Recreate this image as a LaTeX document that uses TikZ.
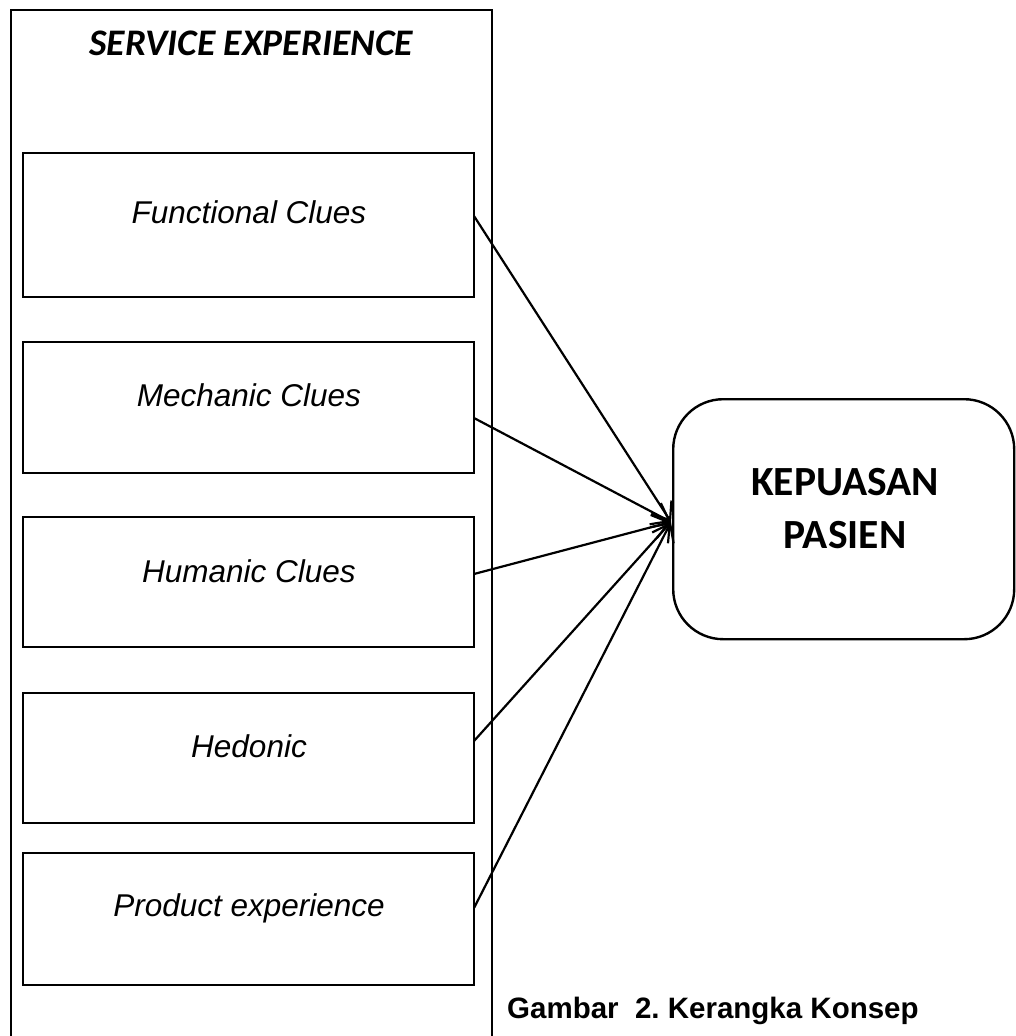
\documentclass[tikz,border=0pt]{standalone}
\usepackage{fontspec}
\setmainfont{Liberation Sans}
\newfontfamily\calib{Carlito}
\usetikzlibrary{arrows.meta}
\frenchspacing
\begin{document}
\begin{tikzpicture}[x=1pt,y=-1pt,
  frame/.style={line width=2.4pt},
  clue/.style={draw,line width=2.4pt,minimum width=451pt,inner sep=0pt,anchor=north west},
  cluetext/.style={anchor=base,inner sep=0pt,font=\itshape\fontsize{31.5}{36}\selectfont},
  goal/.style={draw,line width=2.4pt,rounded corners=50pt,minimum width=341pt,minimum height=240pt,inner sep=0pt,anchor=north west},
  goaltext/.style={anchor=base,inner sep=0pt,font=\calib\bfseries\fontsize{41.5}{48}\selectfont},
  conn/.style={line width=2.2pt,-{Straight Barb[length=16pt,width=24pt]}}]
\useasboundingbox (0,0) rectangle (1015,1036);
% outer frame
\draw[frame] (11,1040) -- (11,10) -- (492,10) -- (492,1040);
\node[anchor=base,inner sep=0pt,font=\calib\bfseries\itshape\fontsize{37.5}{42}\selectfont] (title) at (251,55) {SERVICE EXPERIENCE};
% clue boxes
\node[clue,minimum height=144pt] (b1) at (22,152) {};
\node[clue,minimum height=131pt] (b2) at (22,341) {};
\node[clue,minimum height=130pt] (b3) at (22,516) {};
\node[clue,minimum height=130pt] (b4) at (22,692) {};
\node[clue,minimum height=132pt] (b5) at (22,852) {};
\node[cluetext] (t1) at (249,223) {Functional Clues};
\node[cluetext] (t2) at (249,406) {Mechanic Clues};
\node[cluetext] (t3) at (249,582) {Humanic Clues};
\node[cluetext] (t4) at (249,757) {Hedonic};
\node[cluetext] (t5) at (249,916) {Product experience};
% goal box
\node[goal] (g) at (672,398) {};
\node[goaltext] (g1) at (845,495) {KEPUASAN};
\node[goaltext] (g2) at (845,548) {PASIEN};
% connectors
\coordinate (s1) at (474,216);
\coordinate (s2) at (474,418);
\coordinate (s3) at (474,574);
\coordinate (s4) at (474,741);
\coordinate (s5) at (474,908);
\coordinate (tg) at (671,522);
\foreach \i in {1,...,5} \draw[conn] (s\i) -- (tg);
% caption
\node[anchor=base west,inner sep=0pt,font=\bfseries\fontsize{29.5}{34}\selectfont] (cap) at (507,1018) {Gambar\ \ 2. Kerangka Konsep};
\end{tikzpicture}
\end{document}
